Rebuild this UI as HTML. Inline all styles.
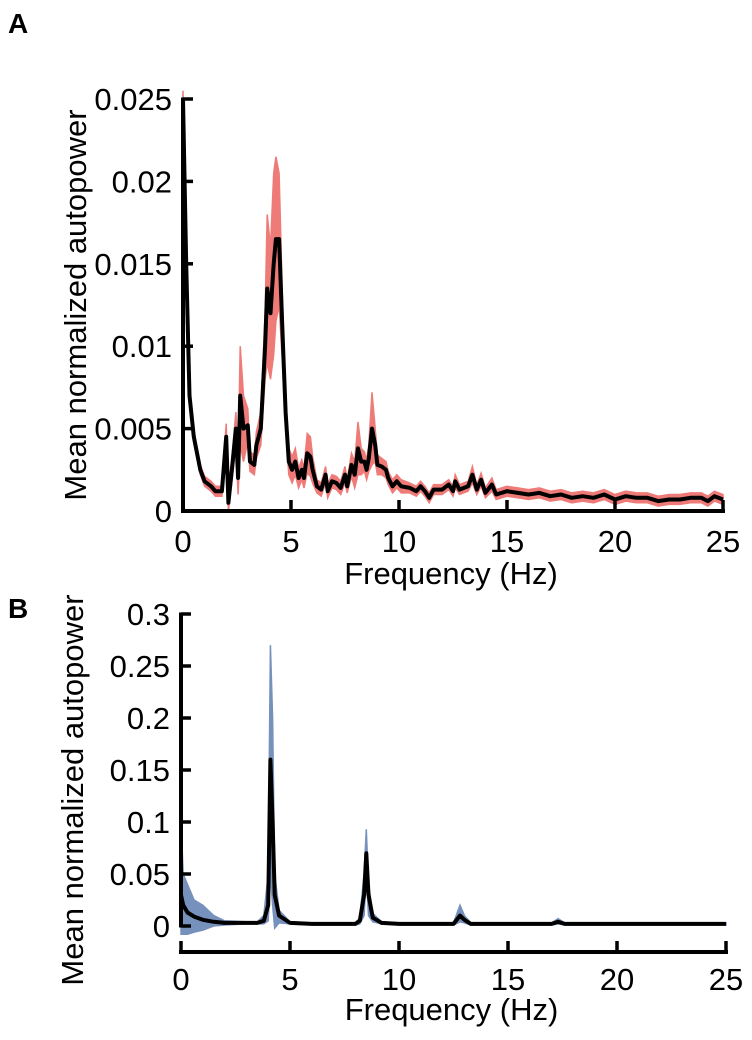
<!DOCTYPE html>
<html><head><meta charset="utf-8"><style>
html,body{margin:0;padding:0;background:#fff;}
svg{display:block;font-family:"Liberation Sans",Arial,sans-serif;}
</style></head><body>
<svg id="fig" width="752" height="1040" viewBox="0 0 752 1040">
<text x="8" y="33" font-size="28" font-weight="bold">A</text>
<text x="8" y="618" font-size="28" font-weight="bold">B</text>
<g id="ga"></g>
<g id="gb"></g>
</svg>
<script>
// Panel A data
const freqA=[0,0.15,0.3,0.5,0.8,1.0,1.3,1.5,1.8,2.0,2.1,2.3,2.45,2.55,2.65,2.8,3.0,3.1,3.3,3.4,3.6,3.8,3.9,4.05,4.2,4.3,4.45,4.6,4.75,4.9,5.05,5.2,5.35,5.5,5.6,5.75,5.9,6.0,6.2,6.4,6.6,6.7,6.9,7.1,7.3,7.5,7.6,7.8,7.95,8.1,8.25,8.4,8.5,8.6,8.75,8.9,9.0,9.2,9.4,9.5,9.7,9.9,10.1,10.5,10.8,11.0,11.2,11.4,11.6,12.0,12.3,12.5,12.6,12.8,13.2,13.4,13.6,13.8,14.0,14.3,14.5,15,15.5,16,16.5,17,17.5,18,18.5,19,19.5,20,20.5,21,21.5,22,22.5,23,23.5,24,24.3,24.6,25];
const meanA=[0.025,0.015,0.007,0.0045,0.0025,0.0018,0.0015,0.0012,0.0012,0.0045,0.0005,0.003,0.005,0.002,0.007,0.005,0.0052,0.003,0.0028,0.004,0.005,0.01,0.0135,0.012,0.015,0.0165,0.0165,0.011,0.006,0.003,0.0025,0.003,0.002,0.0025,0.002,0.0035,0.0033,0.0025,0.0015,0.0013,0.0022,0.0012,0.0018,0.0017,0.0014,0.0022,0.0015,0.0028,0.0022,0.0038,0.003,0.003,0.0025,0.0032,0.005,0.004,0.0028,0.0027,0.0025,0.002,0.0015,0.0018,0.0015,0.0014,0.0012,0.0015,0.0012,0.0008,0.0013,0.0013,0.0016,0.0012,0.0018,0.0013,0.0015,0.0022,0.0013,0.0019,0.0011,0.0016,0.001,0.0012,0.0011,0.001,0.0011,0.0009,0.001,0.0008,0.0009,0.0008,0.001,0.0007,0.0009,0.0008,0.0008,0.0006,0.0007,0.0007,0.0008,0.0008,0.0006,0.0009,0.0007];
const errA=[0.0005,0.0006,0.0005,0.0004,0.0003,0.0003,0.0003,0.0003,0.0003,0.0008,0.0005,0.0008,0.001,0.001,0.003,0.002,0.001,0.0006,0.0006,0.0008,0.001,0.002,0.0045,0.004,0.0055,0.005,0.004,0.002,0.001,0.0008,0.0008,0.0008,0.0006,0.0006,0.0006,0.0012,0.0012,0.0008,0.0004,0.0004,0.0005,0.0004,0.0004,0.0004,0.0004,0.0005,0.0004,0.0007,0.0008,0.0016,0.0008,0.0006,0.0006,0.0008,0.0022,0.001,0.0006,0.0005,0.0005,0.0004,0.0004,0.0004,0.0004,0.0003,0.0003,0.0003,0.0003,0.0003,0.0003,0.0003,0.0003,0.0003,0.0004,0.0003,0.0003,0.0005,0.0003,0.0004,0.0003,0.0004,0.0003,0.0003,0.0003,0.0003,0.0003,0.0003,0.0003,0.0003,0.0003,0.0003,0.0003,0.0003,0.0003,0.0003,0.0003,0.0003,0.0003,0.0003,0.0003,0.0003,0.0003,0.0003,0.0003];
const yTicksA=[0,0.005,0.01,0.015,0.02,0.025];
const yLabelsA=["0","0.005","0.01","0.015","0.02","0.025"];
// Panel B data
const freqB=[0,0.1,0.3,0.6,1,1.5,2,3,3.5,3.8,4.0,4.1,4.2,4.3,4.5,5,6,8,8.2,8.4,8.5,8.6,8.8,9.2,10,12.5,12.8,13.0,13.3,15,17,17.3,17.6,20,25];
const meanB=[0.03,0.02,0.013,0.009,0.006,0.004,0.003,0.003,0.003,0.005,0.02,0.16,0.1,0.03,0.01,0.003,0.002,0.002,0.005,0.03,0.07,0.03,0.008,0.003,0.002,0.002,0.01,0.006,0.002,0.002,0.002,0.004,0.002,0.002,0.002];
const upperB=[0.1,0.05,0.04,0.025,0.02,0.01,0.005,0.004,0.004,0.01,0.05,0.27,0.2,0.05,0.015,0.004,0.003,0.003,0.008,0.05,0.093,0.04,0.012,0.004,0.003,0.003,0.02,0.01,0.003,0.003,0.003,0.007,0.003,0.003,0.003];
const lowerB=[-0.008,-0.008,-0.008,-0.006,-0.004,0,0.001,0.002,0.002,0.002,0.005,0.05,0.02,-0.002,0.003,0.002,0.001,0.001,0.002,0.01,0.05,0.01,0.004,0.002,0.001,0.001,0.004,0.003,0.001,0.001,0.001,0.002,0.001,0.001,0.001];
const yTicksB=[0,0.05,0.1,0.15,0.2,0.25,0.3];
const yLabelsB=["0","0.05","0.1","0.15","0.2","0.25","0.3"];
const xTicks=[0,5,10,15,20,25];

const NS="http://www.w3.org/2000/svg";
function mk(p,t,a){const e=document.createElementNS(NS,t);for(const k in a)e.setAttribute(k,a[k]);p.appendChild(e);return e;}

function drawPanel(g,o){
  const X=v=>o.x0+(v-0)/25*(o.x1-o.x0);
  const Y=v=>o.y0-(v-o.ymin)/(o.ymax-o.ymin)*(o.y0-o.y1);
  let d="";
  o.freq.forEach((f,i)=>{d+=(i?"L":"M")+X(f).toFixed(1)+","+Y(o.up[i]).toFixed(1);});
  for(let i=o.freq.length-1;i>=0;i--)d+="L"+X(o.freq[i]).toFixed(1)+","+Y(o.lo[i]).toFixed(1);
  const band=mk(g,"path",{d:d+"Z",fill:o.bandColor,stroke:o.bandColor,"stroke-width":1.5});
  
  
  let m="";
  o.freq.forEach((f,i)=>{m+=(i?"L":"M")+X(f).toFixed(1)+","+Y(o.mean[i]).toFixed(1);});
  const line=mk(g,"path",{d:m,fill:"none",stroke:"#000","stroke-width":4,"stroke-linejoin":"round"});
  
  
  const ya=mk(g,"line",{x1:o.yax,x2:o.yax,y1:Y(o.yt[o.yt.length-1])-1.5,y2:Y(0)+(o.sep?1.5:1.5),stroke:"#000","stroke-width":4});
  
  
  o.yt.forEach((v,i)=>{
    mk(g,"line",{x1:o.yax,x2:o.yax+10,y1:Y(v),y2:Y(v),stroke:"#000","stroke-width":3.5});
    const t=mk(g,"text",{x:o.yax-11,y:Y(v)+11,"font-size":31,"text-anchor":"end"});
    t.textContent=o.yl[i];
    
    
  });
  const xa=mk(g,"line",{x1:o.xax0,x2:X(25)+2,y1:o.xay,y2:o.xay,stroke:"#000","stroke-width":4});
  
  
  xTicks.forEach(v=>{
    mk(g,"line",{x1:X(v),x2:X(v),y1:o.xay,y2:o.xay-11,stroke:"#000","stroke-width":3.5});
    const t=mk(g,"text",{x:X(v),y:o.xay+o.tlOff,"font-size":31,"text-anchor":"middle"});
    t.textContent=v;
    
    
  });
  const xt=mk(g,"text",{x:(o.x0+o.x1)/2-2,y:o.xay+o.xtOff,"font-size":31,"text-anchor":"middle"});
  xt.textContent="Frequency (Hz)";
  
  
  const yt=mk(g,"text",{x:0,y:0,"font-size":31,"text-anchor":"middle",transform:`translate(${o.ytx},${o.yty}) rotate(-90)`});
  yt.textContent="Mean normalized autopower";
  
  
}
drawPanel(document.getElementById("ga"),{x0:183,x1:723,y0:511,y1:99,ymin:0,ymax:0.025,freq:freqA,mean:meanA,
  up:meanA.map((v,i)=>v+errA[i]),lo:meanA.map((v,i)=>Math.max(0,v-errA[i])),bandColor:"#ee7b78",
  yax:183,yt:yTicksA,yl:yLabelsA,xax0:181,xay:511,tlOff:41,xtOff:73,ytx:86,yty:305});
drawPanel(document.getElementById("gb"),{x0:181,x1:726,y0:926,y1:614,ymin:0,ymax:0.3,freq:freqB,mean:meanB,
  up:upperB,lo:lowerB,bandColor:"#7791bd",sep:true,
  yax:181,yt:yTicksB,yl:yLabelsB,xax0:179,xay:952,tlOff:38,xtOff:68,ytx:83,yty:790});
</script>
</body></html>
